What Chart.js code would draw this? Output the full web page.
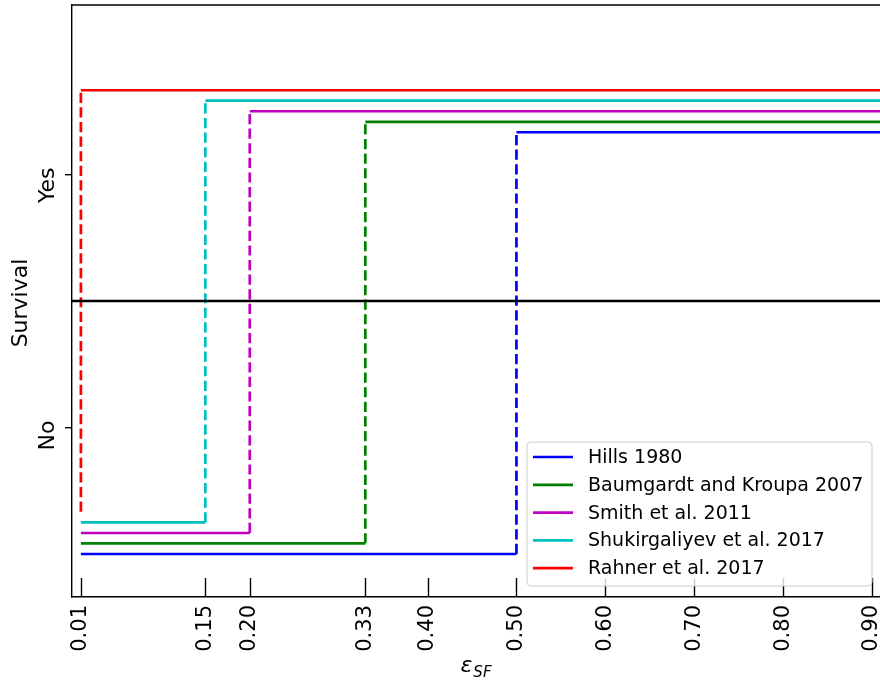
<!DOCTYPE html>
<html>
<head>
<meta charset="utf-8">
<script src="https://cdn.jsdelivr.net/npm/chart.js@4/dist/chart.umd.min.js"></script>
<style>
  html, body { margin: 0; padding: 0; background: #fff; overflow: hidden; }
  canvas { display: block; }
</style>
</head>
<body>
<canvas id="c" width="880" height="682"></canvas>
<script>
// Survival criteria versus star formation efficiency
const studies = ['Hills 1980', 'Baumgardt and Kroupa 2007', 'Smith et al. 2011',
                 'Shukirgaliyev et al. 2017', 'Rahner et al. 2017'];
const thresholds = [0.50, 0.33, 0.20, 0.15, 0.01];
const lowLevels = [-0.5, -0.458, -0.417, -0.375, -0.333];
const highLevels = [1.167, 1.208, 1.25, 1.292, 1.333];
const colors = ['#0000ff', '#008000', '#bf00bf', '#00bfbf', '#ff0000'];
const xTickValues = [0.01, 0.15, 0.20, 0.33, 0.40, 0.50, 0.60, 0.70, 0.80, 0.90];
const yTickValues = [0, 1];
const yTickLabels = ['No', 'Yes'];
const xStart = 0.01;
const xEnd = 1.0;
const xLimits = [0, 0.909];
const yLimits = [-0.67, 1.67];
const dividerLevel = 0.5;

const FONT = "'DejaVu Sans', 'Liberation Sans', sans-serif";
const LW = 2.7;
const DASH = [10.2, 4.4];

const datasets = studies.map((name, i) => ({
  label: name,
  data: [
    { x: xStart, y: lowLevels[i] },
    { x: thresholds[i], y: lowLevels[i] },
    { x: thresholds[i], y: highLevels[i] },
    { x: xEnd, y: highLevels[i] }
  ],
  borderColor: colors[i],
  borderWidth: LW,
  pointRadius: 0,
  fill: false,
  tension: 0,
  borderJoinStyle: 'round',
  order: studies.length - i + 1,
  segment: {
    borderDash: ctx => (ctx.p0.parsed.x === ctx.p1.parsed.x ? DASH : undefined)
  }
}));

datasets.push({
  label: '__divider',
  data: [{ x: -1, y: dividerLevel }, { x: 2, y: dividerLevel }],
  borderColor: '#000000',
  borderWidth: LW,
  pointRadius: 0,
  fill: false,
  order: 0
});

// frame, inward x ticks, rotated y labels, axis titles and legend
const decorations = {
  id: 'decorations',
  afterDraw(chart) {
    const { ctx, chartArea, scales } = chart;
    const xs = scales.x, ys = scales.y;
    ctx.save();

    // top spine
    ctx.strokeStyle = '#000';
    ctx.lineWidth = 1.4;
    ctx.beginPath();
    ctx.moveTo(chartArea.left - 0.7, chartArea.top);
    ctx.lineTo(chartArea.right, chartArea.top);
    ctx.stroke();

    // x ticks pointing into the plot
    ctx.lineWidth = 1.4;
    xTickValues.forEach(v => {
      const px = Math.round(xs.getPixelForValue(v)) + 0.5;
      ctx.beginPath();
      ctx.moveTo(px, chartArea.bottom);
      ctx.lineTo(px, chartArea.bottom - 19);
      ctx.stroke();
    });

    // y tick labels, rotated
    ctx.fillStyle = '#000';
    ctx.font = `22px ${FONT}`;
    yTickValues.forEach((v, i) => {
      const py = ys.getPixelForValue(v);
      ctx.save();
      ctx.translate(54, py - 7);
      ctx.rotate(-Math.PI / 2);
      ctx.textAlign = 'right';
      ctx.textBaseline = 'alphabetic';
      ctx.fillText(yTickLabels[i], 0, 0);
      ctx.restore();
    });

    // y axis title
    ctx.save();
    ctx.translate(27, (chartArea.top + chartArea.bottom) / 2 + 2);
    ctx.rotate(-Math.PI / 2);
    ctx.textAlign = 'center';
    ctx.textBaseline = 'alphabetic';
    ctx.font = `22px ${FONT}`;
    ctx.fillText('Survival', 0, 0);
    ctx.restore();

    // x axis title: epsilon with SF subscript
    const mainFont = `italic 22px ${FONT}`;
    const subFont = `italic 15px ${FONT}`;
    ctx.font = mainFont;
    const wMain = ctx.measureText('ε').width;
    ctx.font = subFont;
    const wSub = ctx.measureText('SF').width;
    const cx = (chartArea.left + chartArea.right) / 2;
    const x0 = cx - (wMain + wSub + 1) / 2;
    ctx.textAlign = 'left';
    ctx.textBaseline = 'alphabetic';
    ctx.font = mainFont;
    ctx.fillText('ε', x0, 672);
    ctx.font = subFont;
    ctx.fillText('SF', x0 + wMain + 1, 677);

    // legend
    const bx = 527, by = 442, bw = 345, bh = 144, r = 4;
    ctx.beginPath();
    ctx.moveTo(bx + r, by);
    ctx.lineTo(bx + bw - r, by);
    ctx.arcTo(bx + bw, by, bx + bw, by + r, r);
    ctx.lineTo(bx + bw, by + bh - r);
    ctx.arcTo(bx + bw, by + bh, bx + bw - r, by + bh, r);
    ctx.lineTo(bx + r, by + bh);
    ctx.arcTo(bx, by + bh, bx, by + bh - r, r);
    ctx.lineTo(bx, by + r);
    ctx.arcTo(bx, by, bx + r, by, r);
    ctx.closePath();
    ctx.fillStyle = 'rgba(255,255,255,0.8)';
    ctx.fill();
    ctx.strokeStyle = '#cccccc';
    ctx.lineWidth = 1;
    ctx.stroke();

    ctx.font = `19px ${FONT}`;
    ctx.textBaseline = 'middle';
    ctx.textAlign = 'left';
    chart.data.datasets.filter(d => !d.label.startsWith('__')).forEach((d, i) => {
      const ry = 457 + i * 27.8;
      ctx.strokeStyle = d.borderColor;
      ctx.lineWidth = LW;
      ctx.beginPath();
      ctx.moveTo(533, ry);
      ctx.lineTo(573, ry);
      ctx.stroke();
      ctx.fillStyle = '#000';
      ctx.fillText(d.label, 588, ry + 1);
    });

    ctx.restore();
  }
};

new Chart(document.getElementById('c'), {
  type: 'line',
  data: { datasets },
  options: {
    responsive: false,
    animation: false,
    events: [],
    layout: { padding: { top: 5, right: 0, left: 0, bottom: 0 } },
    plugins: {
      legend: { display: false },
      tooltip: { enabled: false },
      title: { display: false }
    },
    scales: {
      x: {
        type: 'linear',
        min: xLimits[0],
        max: xLimits[1],
        afterBuildTicks: s => { s.ticks = xTickValues.map(v => ({ value: v })); },
        afterFit: s => { s.height = 85; s.paddingLeft = 0; s.paddingRight = 0; },
        ticks: {
          autoSkip: false,
          minRotation: 90,
          maxRotation: 90,
          padding: 8,
          color: '#000',
          font: { family: FONT, size: 21 },
          callback: v => Number(v).toFixed(2)
        },
        grid: { display: true, drawOnChartArea: false, drawTicks: false },
        border: { display: true, color: '#000', width: 1.4 }
      },
      y: {
        type: 'linear',
        min: yLimits[0],
        max: yLimits[1],
        afterBuildTicks: s => { s.ticks = yTickValues.map(v => ({ value: v })); },
        afterFit: s => { s.width = 72; s.paddingTop = 0; s.paddingBottom = 0; },
        ticks: { display: false },
        grid: { display: true, drawOnChartArea: false, drawTicks: true, tickLength: 7, color: '#000', lineWidth: 1.4 },
        border: { display: true, color: '#000', width: 1.4 }
      }
    }
  },
  plugins: [decorations]
});
</script>
</body>
</html>
